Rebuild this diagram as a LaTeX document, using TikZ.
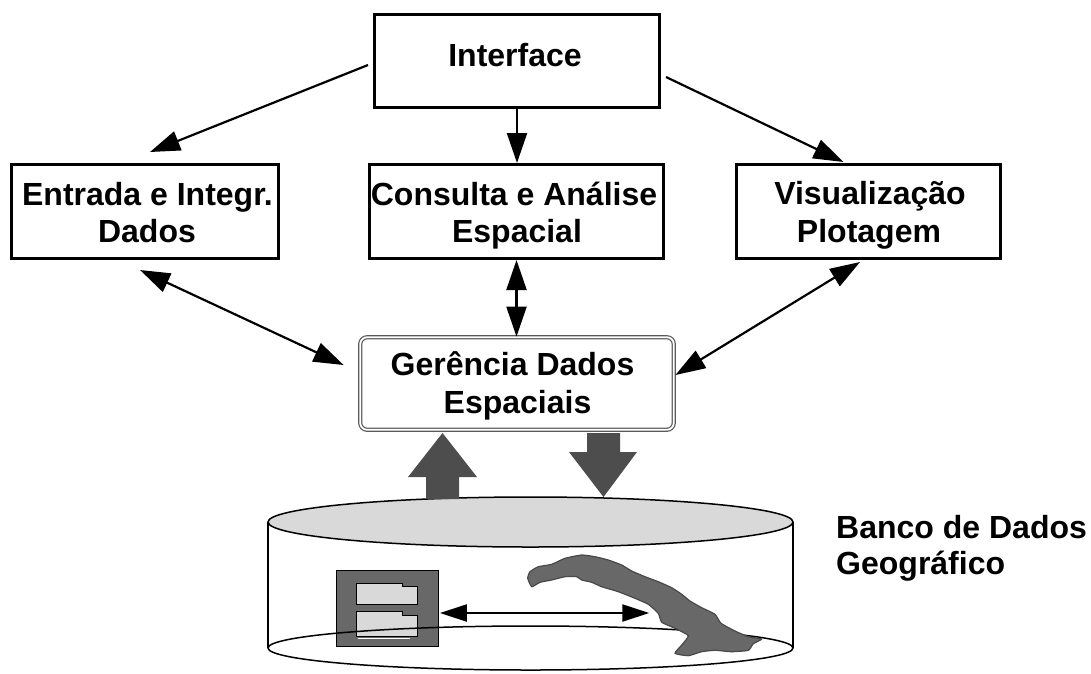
\documentclass[tikz,border=0pt]{standalone}
\usepackage{fontspec}
\setmainfont{Liberation Sans}
\usetikzlibrary{arrows.meta,calc}
\definecolor{darkfill}{HTML}{4D4D4D}
\definecolor{mapfill}{HTML}{686868}
\definecolor{lightfill}{HTML}{D9D9D9}
\definecolor{frame}{HTML}{5A5A5A}
\begin{document}
\begin{tikzpicture}[x=1pt,y=-1pt,
  box/.style={draw, line width=3pt, inner sep=0pt, rectangle},
  dbox/.style={draw=frame, line width=1.2pt, double=white, double distance=1.8pt, rounded corners=7pt, inner sep=0pt, rectangle},
  lbl/.style={font=\fontsize{32}{37}\selectfont\bfseries, inner sep=0pt, anchor=base},
  arr/.style={line width=2.2pt, -{Triangle[length=30pt,width=20pt]}},
  darr/.style={line width=2.2pt, {Triangle[length=30pt,width=20pt]}-{Triangle[length=30pt,width=20pt]}},
  sarr/.style={line width=2.2pt, {Triangle[length=27pt,width=17pt]}-{Triangle[length=27pt,width=17pt]}},
  cyl/.style={line width=1.5pt},
]
\useasboundingbox (0,0) rectangle (1091,673);

% boxes
\node[box, minimum width=285pt, minimum height=93pt] (interface) at (517,61) {};
\node[box, minimum width=267pt, minimum height=94pt] (entrada) at (145,211.5) {};
\node[box, minimum width=294pt, minimum height=94pt] (consulta) at (516.5,211.5) {};
\node[box, minimum width=264pt, minimum height=94pt] (visual) at (868.5,211.5) {};
\node[dbox, minimum width=313.6pt, minimum height=92.6pt] (gerencia) at (517,383.5) {};

% labels
\node[lbl] (interfaceT) at (515,66) {Interface};
\node[lbl] (entradaT1) at (147.5,205) {Entrada e Integr.};
\node[lbl] (entradaT2) at (147,242) {Dados};
\node[lbl] (consultaT1) at (514,205) {Consulta e Análise};
\node[lbl] (consultaT2) at (517,242) {Espacial};
\node[lbl] (visualT1) at (870,204) {Visualização};
\node[lbl] (visualT2) at (869,242) {Plotagem};
\node[lbl] (gerenciaT1) at (512.5,375) {Gerência Dados};
\node[lbl] (gerenciaT2) at (517.5,413) {Espaciais};
\node[lbl, anchor=base west] (bancoT1) at (836,538) {Banco de Dados};
\node[lbl, anchor=base west] (bancoT2) at (836,574) {Geográfico};

% connectors
\draw[arr] ([xshift=-5pt,yshift=-4pt]interface.west) -- ([xshift=5pt,yshift=11pt]entrada.north);
\draw[arr] (interface.south) -- (interface.south |- consulta.north);
\draw[arr] ([xshift=5pt,yshift=-16pt]interface.east) -- ([xshift=-25pt,yshift=1pt]visual.north);
\draw[darr] ([xshift=-5pt,yshift=-10pt]entrada.south) -- ([xshift=-16pt,yshift=18.5pt]gerencia.west);
\draw[darr] (consulta.south) -- (consulta.south |- gerencia.north);
\draw[darr] ([xshift=-8.5pt,yshift=-2pt]visual.south) -- ([xshift=1pt,yshift=8.5pt]gerencia.east);

% cylinder (database)
\draw[cyl] (268,522) -- (268,648);
\draw[cyl] (793,522) -- (793,648);

% small table icon
\node[draw, line width=0.8pt, fill=mapfill, minimum width=102pt, minimum height=76pt, inner sep=0pt] (tbl) at (387.5,608.5) {};
\filldraw[fill=lightfill, line width=1pt] (356,604) -- (356,583) -- (402,583) -- (402,586) -- (417,586) -- (417,604) -- cycle;
\filldraw[fill=lightfill, line width=1pt] (356,636) -- (356,611) -- (402,611) -- (402,615) -- (417,615) -- (417,636) -- cycle;
\draw[white, line width=1pt] (358,638.5) -- (410,638.5);

\draw[cyl] (530.5,648) ellipse [x radius=262.5, y radius=22];
\filldraw[cyl, fill=lightfill] (530.5,522) ellipse [x radius=262.5, y radius=25];

% island map
\filldraw[fill=mapfill, draw=mapfill!70!black, line width=1.2pt, line join=round] plot[smooth cycle, tension=0.3] coordinates {
 (527.7,578.3) (530,571.7) (538.3,566.7) (551.7,564.3) (565,558.3) (581.7,555)
 (595,556.7) (608.3,560) (621.7,565) (631.7,571) (645,576.7) (658.3,581.7)
 (671.7,587.7) (681.7,594.3) (690,601) (701.7,607.7) (715,614.3) (721,623.3)
 (735,631) (748.3,636.7) (761.7,639) (753.3,643.7) (748.3,650.3) (731.7,651.7)
 (715,650.3) (701.7,651.7) (688.3,655.7) (675,653.3) (681.7,645) (688.3,635.7)
 (675,628.3) (661.7,622.3) (658.3,613.3) (648.3,604.3) (635,598.3) (618.3,591.7)
 (601.7,586.7) (591.7,582.3) (581.7,580) (576.7,576.7) (565,576.7) (551.7,580)
 (540,582.3) (531.7,586.7)};
\node[inner sep=0pt, minimum size=1pt] (island) at (650,613) {};

\coordinate (tblR) at ([xshift=1pt,yshift=-4.5pt]tbl.east);
\draw[sarr] (tblR) -- (tblR -| island.west);

% big transfer arrows
\fill[darkfill] (426,499) -- (426,477) -- (408,477) -- (442.5,433) -- (477,477) -- (459,477) -- (459,499) -- cycle;
\fill[darkfill] (587,433) -- (620,433) -- (620,452) -- (637,452) -- (603.5,497) -- (569,452) -- (587,452) -- cycle;
\end{tikzpicture}
\end{document}
